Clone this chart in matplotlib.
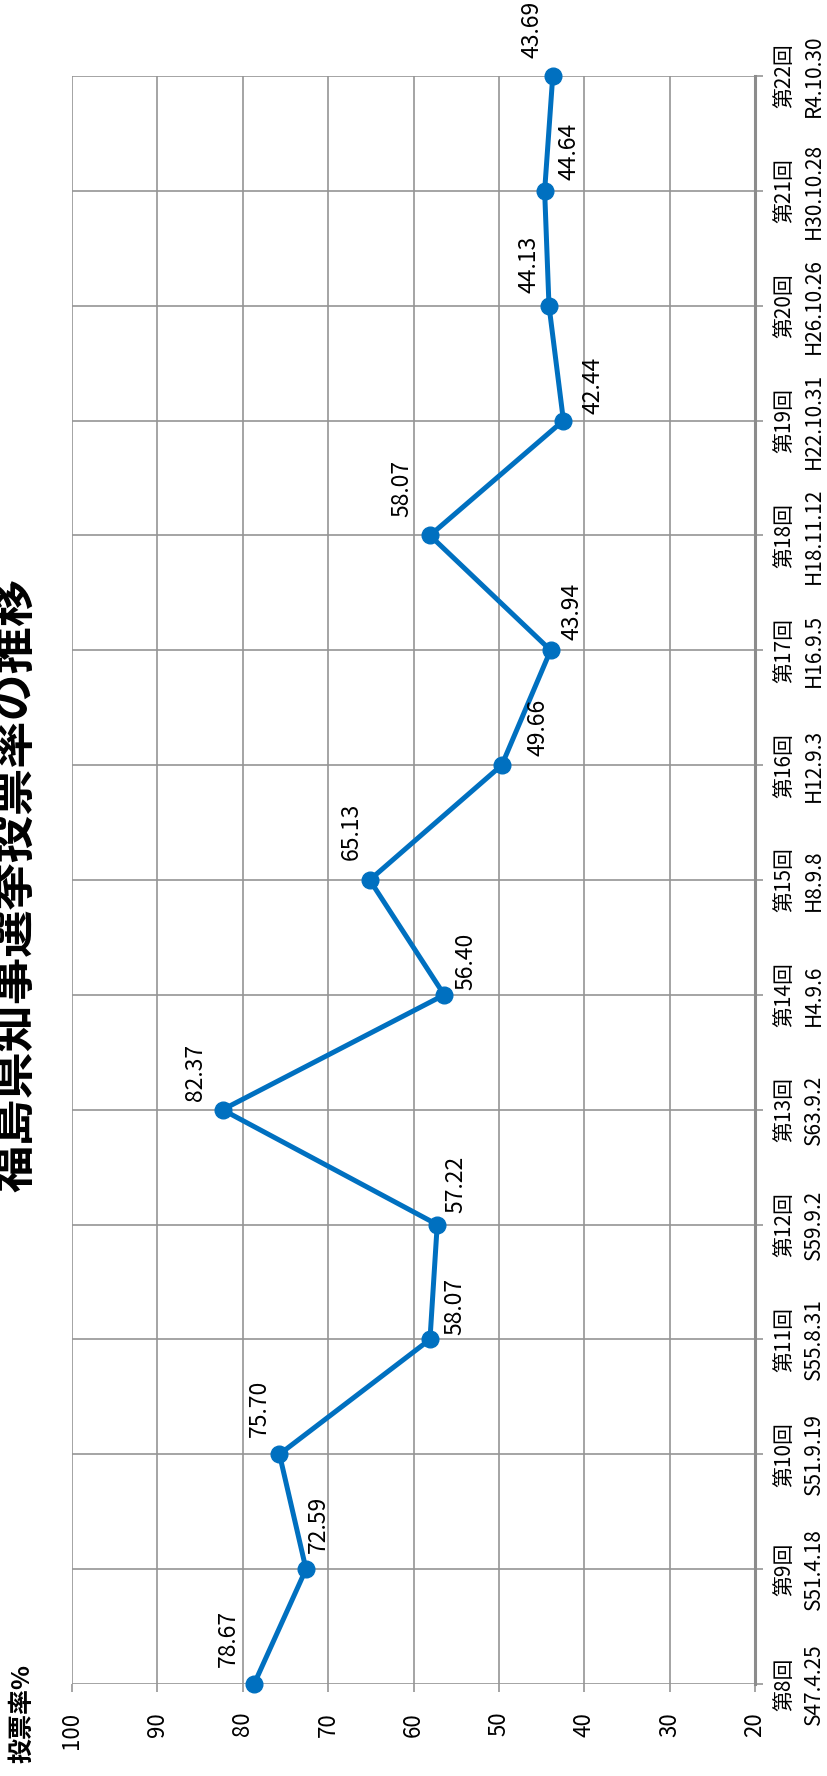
import matplotlib
matplotlib.use("Agg")
import matplotlib.pyplot as plt

plt.rcParams['font.family'] = ['Noto Sans CJK JP', 'DejaVu Sans']

rounds = ["第8回", "第9回", "第10回", "第11回", "第12回", "第13回", "第14回",
          "第15回", "第16回", "第17回", "第18回", "第19回", "第20回", "第21回", "第22回"]
dates = ["S47.4.25", "S51.4.18", "S51.9.19", "S55.8.31", "S59.9.2", "S63.9.2", "H4.9.6",
         "H8.9.8", "H12.9.3", "H16.9.5", "H18.11.12", "H22.10.31", "H26.10.26", "H30.10.28", "R4.10.30"]
turnout = [78.67, 72.59, 75.70, 58.07, 57.22, 82.37, 56.40, 65.13, 49.66, 43.94,
           58.07, 42.44, 44.13, 44.64, 43.69]
value_ticks = [20, 30, 40, 50, 60, 70, 80, 90, 100]
title = "福島県知事選挙投票率の推移"
axis_label = "投票率%"

# label offsets in pixels (x: along value axis, y: upward)
label_dx = [-26, 12, -20, 25, 19, -27, 22, -18, 36, 21, -28, 30, -20, 24, -21]
label_gap = [17, 16, 17, 4, 12, 9, 5, 20, 9, 10, 18, 7, 13, 11, 18]

W, H = 827, 1776
fig = plt.figure(figsize=(W / 100, H / 100), dpi=100)
ax = fig.add_axes([72 / W, (H - 1684) / H, (755 - 72) / W, (1684 - 76) / H])

grid_c = '#959595'
pos = list(range(len(turnout)))
ax.plot(turnout, pos, color='#0070C0', lw=3.6, marker='o', markersize=12,
        solid_joinstyle='round', zorder=5, clip_on=False)

ax.set_xlim(100, 20)
ax.set_ylim(0, len(turnout) - 1)
ax.set_xticks(value_ticks)
ax.set_xticklabels([str(v) for v in value_ticks], rotation=90, fontsize=16)
ax.set_yticks(pos)
ax.set_yticklabels([f"{r}\n{d}" for r, d in zip(rounds, dates)], rotation=90,
                   fontsize=15, va='center', ha='left', multialignment='center',
                   linespacing=1.45)
ax.yaxis.tick_right()
ax.tick_params(axis='x', length=6, width=1.2, color=grid_c, pad=14)
ax.tick_params(axis='y', length=6, width=1.2, color=grid_c, pad=7)
ax.grid(True, color=grid_c, lw=1.2)
ax.set_axisbelow(True)
for s in ['top', 'left', 'bottom']:
    ax.spines[s].set_visible(False)
ax.spines['right'].set_color('#8c8c8c')
ax.spines['right'].set_linewidth(2.2)

for i, v in enumerate(turnout):
    ax.annotate(f"{v:.2f}", xy=(v, i), xytext=(label_dx[i], label_gap[i]),
                textcoords='offset pixels', rotation=90, ha='center', va='bottom',
                fontsize=16.5, zorder=6)

fig.text(14 / W, 1 - 885 / H, title, rotation=90, ha='center', va='center',
         fontsize=34, fontweight='bold')
fig.text(22 / W, 1 - 1713 / H, axis_label, rotation=90, ha='center', va='center',
         fontsize=18, fontweight='bold')

fig.savefig("out.png", dpi=100, facecolor='white')
